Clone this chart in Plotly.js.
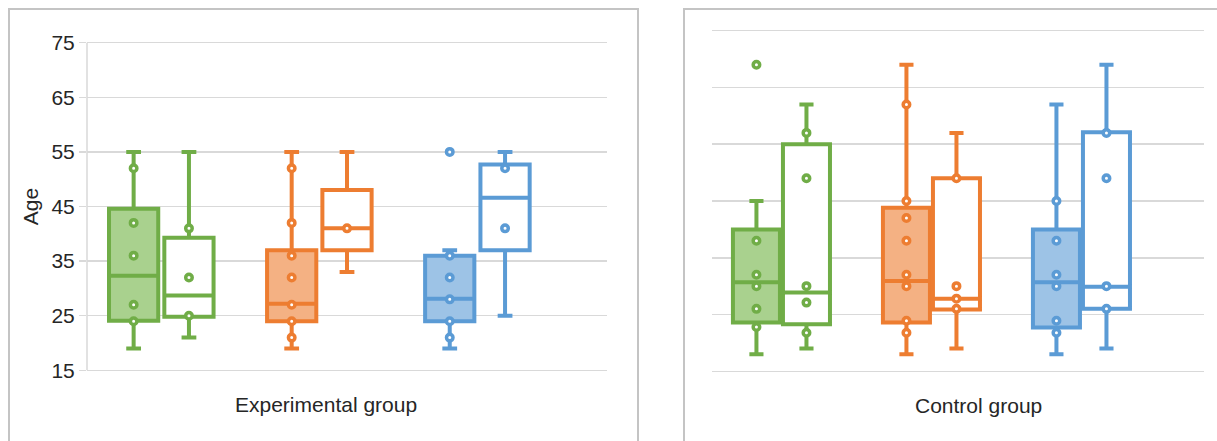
<!DOCTYPE html>
<html>
<head>
<meta charset="utf-8">
<script src="https://cdn.plot.ly/plotly-3.0.1.min.js"></script>
<style>
  html, body { margin: 0; padding: 0; background: #ffffff; width: 1217px; height: 441px; overflow: hidden; }
  .panel { position: absolute; border: 2px solid #c4c4c4; background: #fff; }
  #p1 { left: 8px; top: 8px; width: 627px; height: 440px; }
  #p2 { left: 683px; top: 8px; width: 560px; height: 440px; }
</style>
</head>
<body>
<div id="p1" class="panel"></div>
<div id="p2" class="panel"></div>
<script>
// ---- data ----
const categories = ['Group 1', 'Group 2', 'Group 3'];
const lineColors = ['#70ad47', '#ed7d31', '#5b9bd5'];
const fillColors = ['#a9d18e', '#f4b183', '#9dc3e6'];
const yTicks = [15, 25, 35, 45, 55, 65, 75];

// Experimental group, filled boxes
const expPreQ1 = [24.1, 24.0, 24.0];
const expPreMedian = [32.3, 27.2, 28.1];
const expPreQ3 = [44.6, 37.0, 36.0];
const expPreLow = [19, 19, 19];
const expPreHigh = [55, 55, 37];
const expPrePoints = [[52, 42, 36, 27, 24], [52, 42, 36, 32, 27, 24, 21], [55, 36, 32, 28, 24, 21]];

// Experimental group, open boxes
const expPostQ1 = [24.8, 37.0, 37.0];
const expPostMedian = [28.7, 41.0, 46.6];
const expPostQ3 = [39.3, 48.0, 52.7];
const expPostLow = [21, 33, 25];
const expPostHigh = [55, 55, 55];
const expPostPoints = [[41, 32, 25], [41], [52, 41]];

// Control group, filled boxes
const ctrlPreQ1 = [23.6, 23.6, 22.7];
const ctrlPreMedian = [30.7, 30.9, 30.7];
const ctrlPreQ3 = [40.0, 43.8, 40.0];
const ctrlPreLow = [18, 18, 18];
const ctrlPreHigh = [45, 69, 62];
const ctrlPrePoints = [[69, 38, 32, 30, 26, 22.8], [62, 45, 42, 38, 32, 30, 23.9, 21.8], [45, 38, 32, 30, 23.9, 21.8]];

// Control group, open boxes
const ctrlPostQ1 = [23.3, 25.9, 26.0];
const ctrlPostMedian = [28.9, 27.8, 29.9];
const ctrlPostQ3 = [55.0, 49.0, 57.1];
const ctrlPostLow = [19, 19, 19];
const ctrlPostHigh = [62, 57, 69];
const ctrlPostPoints = [[57, 49, 30, 27.1, 21.8], [49, 30, 27.8, 26], [57, 49, 30, 26]];

const FONT = 'Liberation Sans, Arial, sans-serif';
const TEXT = '#262626';
const GRID = '#d9d9d9';

function makeTraces(q1, med, q3, lo, hi, pts, filled, group) {
  return categories.map((c, i) => ({
    type: 'box',
    orientation: 'v',
    x: [c],
    q1: [q1[i]], median: [med[i]], q3: [q3[i]],
    lowerfence: [lo[i]], upperfence: [hi[i]],
    y: [pts[i]],
    boxpoints: 'all', jitter: 0, pointpos: 0,
    offsetgroup: group,
    whiskerwidth: 0.3,
    fillcolor: filled ? fillColors[i] : '#ffffff',
    line: { color: lineColors[i], width: 4 },
    marker: { symbol: 'circle', size: 6.5, color: '#ffffff', line: { color: lineColors[i], width: 3.5 } },
    hoverinfo: 'skip',
    showlegend: false
  }));
}

function baseLayout(opts) {
  return {
    width: opts.w, height: 440,
    margin: opts.margin,
    paper_bgcolor: '#ffffff', plot_bgcolor: '#ffffff',
    boxmode: 'group', boxgap: opts.boxgap, boxgroupgap: opts.boxgroupgap,
    showlegend: false,
    font: { family: FONT, color: TEXT, size: 21 },
    xaxis: {
      type: 'category', categoryarray: categories, categoryorder: 'array',
      range: opts.xrange, showticklabels: false, ticks: '', showgrid: false,
      zeroline: false, showline: false, fixedrange: true
    },
    yaxis: {
      range: [14.7, 75.3], tickvals: yTicks, showgrid: true, gridcolor: GRID, gridwidth: 1.5,
      zeroline: false, showticklabels: opts.ylabels,
      showline: false,
      ticks: opts.ylabels ? 'outside' : '', ticklen: 7, tickcolor: GRID, tickwidth: 1.5,
      tickfont: { family: FONT, color: TEXT, size: 21 },
      title: opts.ylabels ? { text: 'Age', font: { family: FONT, color: TEXT, size: 21 }, standoff: 7 } : { text: '' },
      fixedrange: true
    },
    shapes: opts.ylabels ? [{
      type: 'line', xref: 'paper', yref: 'y', x0: 0, x1: 0, y0: yTicks[0], y1: yTicks[yTicks.length - 1],
      line: { color: GRID, width: 1.5 }, layer: 'below'
    }] : [],
    annotations: [{
      text: opts.title, xref: 'paper', yref: 'paper', x: opts.titleX, y: 0,
      xanchor: 'center', yanchor: 'middle', yshift: opts.titleShift, showarrow: false,
      font: { family: FONT, color: TEXT, size: 21 }
    }]
  };
}

const cfg = { displayModeBar: false, staticPlot: true };

Plotly.newPlot('p1',
  makeTraces(expPreQ1, expPreMedian, expPreQ3, expPreLow, expPreHigh, expPrePoints, true, 'pre')
    .concat(makeTraces(expPostQ1, expPostMedian, expPostQ3, expPostLow, expPostHigh, expPostPoints, false, 'post')),
  baseLayout({ w: 627, margin: { l: 77, r: 30, t: 31, b: 78 }, boxgap: 0.30, boxgroupgap: 0.11,
               xrange: [-0.47, 2.82], ylabels: true, title: 'Experimental group', titleX: 0.46, titleShift: -32 }),
  cfg);

Plotly.newPlot('p2',
  makeTraces(ctrlPreQ1, ctrlPreMedian, ctrlPreQ3, ctrlPreLow, ctrlPreHigh, ctrlPrePoints, true, 'pre')
    .concat(makeTraces(ctrlPostQ1, ctrlPostMedian, ctrlPostQ3, ctrlPostLow, ctrlPostHigh, ctrlPostPoints, false, 'post')),
  baseLayout({ w: 560, margin: { l: 27, r: 41, t: 19, b: 77 }, boxgap: 0.333, boxgroupgap: 0.06,
               xrange: [-0.463, 2.817], ylabels: false, title: 'Control group', titleX: 0.5417, titleShift: -32 }),
  cfg);
</script>
</body>
</html>
